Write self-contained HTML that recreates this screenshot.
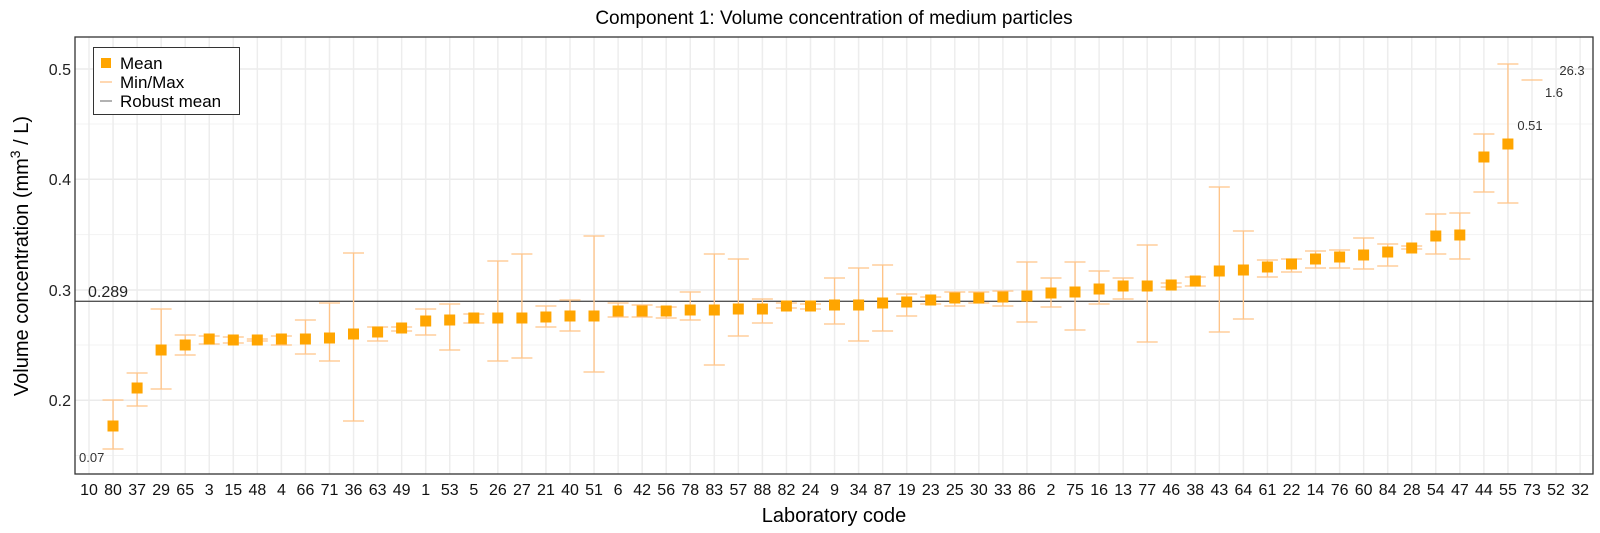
<!DOCTYPE html>
<html><head><meta charset="utf-8"><style>
body{margin:0;background:#fff}
svg{display:block;font-family:"Liberation Sans",Arial,sans-serif}
</style></head><body>
<svg width="1600" height="533" viewBox="0 0 1600 533" xmlns="http://www.w3.org/2000/svg">
<rect width="1600" height="533" fill="#fff"/>
<text x="834" y="24" font-size="19" text-anchor="middle" fill="#000">Component 1: Volume concentration of medium particles</text>
<g stroke="#ebebeb" stroke-width="1.5">
<line x1="75" x2="1593" y1="69" y2="69"/><line x1="75" x2="1593" y1="179.3" y2="179.3"/><line x1="75" x2="1593" y1="290" y2="290"/><line x1="75" x2="1593" y1="400.3" y2="400.3"/>
</g>
<g stroke="#f3f3f3" stroke-width="1">
<line x1="75" x2="1593" y1="124" y2="124"/><line x1="75" x2="1593" y1="234.6" y2="234.6"/><line x1="75" x2="1593" y1="345" y2="345"/><line x1="75" x2="1593" y1="455.5" y2="455.5"/>
</g>
<g stroke="#ededed" stroke-width="1.5" id="vg">
<line x1="89" x2="89" y1="37" y2="474"/><line x1="113.05" x2="113.05" y1="37" y2="474"/><line x1="137.1" x2="137.1" y1="37" y2="474"/><line x1="161.15" x2="161.15" y1="37" y2="474"/><line x1="185.2" x2="185.2" y1="37" y2="474"/><line x1="209.25" x2="209.25" y1="37" y2="474"/><line x1="233.3" x2="233.3" y1="37" y2="474"/><line x1="257.35" x2="257.35" y1="37" y2="474"/><line x1="281.4" x2="281.4" y1="37" y2="474"/><line x1="305.45" x2="305.45" y1="37" y2="474"/><line x1="329.5" x2="329.5" y1="37" y2="474"/><line x1="353.55" x2="353.55" y1="37" y2="474"/><line x1="377.6" x2="377.6" y1="37" y2="474"/><line x1="401.65" x2="401.65" y1="37" y2="474"/><line x1="425.7" x2="425.7" y1="37" y2="474"/><line x1="449.75" x2="449.75" y1="37" y2="474"/><line x1="473.8" x2="473.8" y1="37" y2="474"/><line x1="497.85" x2="497.85" y1="37" y2="474"/><line x1="521.9" x2="521.9" y1="37" y2="474"/><line x1="545.95" x2="545.95" y1="37" y2="474"/><line x1="570" x2="570" y1="37" y2="474"/><line x1="594.05" x2="594.05" y1="37" y2="474"/><line x1="618.1" x2="618.1" y1="37" y2="474"/><line x1="642.15" x2="642.15" y1="37" y2="474"/><line x1="666.2" x2="666.2" y1="37" y2="474"/><line x1="690.25" x2="690.25" y1="37" y2="474"/><line x1="714.3" x2="714.3" y1="37" y2="474"/><line x1="738.35" x2="738.35" y1="37" y2="474"/><line x1="762.4" x2="762.4" y1="37" y2="474"/><line x1="786.45" x2="786.45" y1="37" y2="474"/><line x1="810.5" x2="810.5" y1="37" y2="474"/><line x1="834.55" x2="834.55" y1="37" y2="474"/><line x1="858.6" x2="858.6" y1="37" y2="474"/><line x1="882.65" x2="882.65" y1="37" y2="474"/><line x1="906.7" x2="906.7" y1="37" y2="474"/><line x1="930.75" x2="930.75" y1="37" y2="474"/><line x1="954.8" x2="954.8" y1="37" y2="474"/><line x1="978.85" x2="978.85" y1="37" y2="474"/><line x1="1002.9" x2="1002.9" y1="37" y2="474"/><line x1="1026.95" x2="1026.95" y1="37" y2="474"/><line x1="1051" x2="1051" y1="37" y2="474"/><line x1="1075.05" x2="1075.05" y1="37" y2="474"/><line x1="1099.1" x2="1099.1" y1="37" y2="474"/><line x1="1123.15" x2="1123.15" y1="37" y2="474"/><line x1="1147.2" x2="1147.2" y1="37" y2="474"/><line x1="1171.25" x2="1171.25" y1="37" y2="474"/><line x1="1195.3" x2="1195.3" y1="37" y2="474"/><line x1="1219.35" x2="1219.35" y1="37" y2="474"/><line x1="1243.4" x2="1243.4" y1="37" y2="474"/><line x1="1267.45" x2="1267.45" y1="37" y2="474"/><line x1="1291.5" x2="1291.5" y1="37" y2="474"/><line x1="1315.55" x2="1315.55" y1="37" y2="474"/><line x1="1339.6" x2="1339.6" y1="37" y2="474"/><line x1="1363.65" x2="1363.65" y1="37" y2="474"/><line x1="1387.7" x2="1387.7" y1="37" y2="474"/><line x1="1411.75" x2="1411.75" y1="37" y2="474"/><line x1="1435.8" x2="1435.8" y1="37" y2="474"/><line x1="1459.85" x2="1459.85" y1="37" y2="474"/><line x1="1483.9" x2="1483.9" y1="37" y2="474"/><line x1="1507.95" x2="1507.95" y1="37" y2="474"/><line x1="1532" x2="1532" y1="37" y2="474"/><line x1="1556.05" x2="1556.05" y1="37" y2="474"/><line x1="1580.1" x2="1580.1" y1="37" y2="474"/>
</g>
<line x1="75" x2="1593" y1="301.3" y2="301.3" stroke="#555" stroke-width="1.3"/>
<text x="88" y="297" font-size="16" fill="#222">0.289</text>
<text x="79" y="462" font-size="13" fill="#333">0.07</text>
<text x="1572" y="75" font-size="13" fill="#333" text-anchor="middle">26.3</text>
<text x="1554" y="97" font-size="13" fill="#333" text-anchor="middle">1.6</text>
<text x="1530" y="130" font-size="13" fill="#333" text-anchor="middle">0.51</text>
<g stroke="#ffc488" stroke-width="1.3" fill="none">
<path d="M113.05,400V449M102.5,400h21M102.5,449h21"/>
<path d="M137.1,373V406M126.6,373h21M126.6,406h21"/>
<path d="M161.15,309V389M150.6,309h21M150.6,389h21"/>
<path d="M185.2,335V355M174.7,335h21M174.7,355h21"/>
<path d="M209.25,336V344M198.7,336h21M198.7,344h21"/>
<path d="M233.3,337V343M222.8,337h21M222.8,343h21"/>
<path d="M257.35,339V341M246.8,339h21M246.8,341h21"/>
<path d="M281.4,336V345M270.9,336h21M270.9,345h21"/>
<path d="M305.45,320V354M294.9,320h21M294.9,354h21"/>
<path d="M329.5,303V361M319,303h21M319,361h21"/>
<path d="M353.55,253V421M343,253h21M343,421h21"/>
<path d="M377.6,327V341M367.1,327h21M367.1,341h21"/>
<path d="M401.65,327V331M391.1,327h21M391.1,331h21"/>
<path d="M425.7,309V335M415.2,309h21M415.2,335h21"/>
<path d="M449.75,304V350M439.2,304h21M439.2,350h21"/>
<path d="M473.8,314V323M463.3,314h21M463.3,323h21"/>
<path d="M497.85,261V361M487.3,261h21M487.3,361h21"/>
<path d="M521.9,254V358M511.4,254h21M511.4,358h21"/>
<path d="M545.95,306V327M535.4,306h21M535.4,327h21"/>
<path d="M570,300V331M559.5,300h21M559.5,331h21"/>
<path d="M594.05,236V372M583.5,236h21M583.5,372h21"/>
<path d="M618.1,303V317M607.6,303h21M607.6,317h21"/>
<path d="M642.15,305V317M631.6,305h21M631.6,317h21"/>
<path d="M666.2,307V318M655.7,307h21M655.7,318h21"/>
<path d="M690.25,292V320M679.7,292h21M679.7,320h21"/>
<path d="M714.3,254V365M703.8,254h21M703.8,365h21"/>
<path d="M738.35,259V336M727.8,259h21M727.8,336h21"/>
<path d="M762.4,299V323M751.9,299h21M751.9,323h21"/>
<path d="M786.45,303V308M775.9,303h21M775.9,308h21"/>
<path d="M810.5,304V309M800,304h21M800,309h21"/>
<path d="M834.55,278V324M824,278h21M824,324h21"/>
<path d="M858.6,268V341M848.1,268h21M848.1,341h21"/>
<path d="M882.65,265V331M872.1,265h21M872.1,331h21"/>
<path d="M906.7,294V316M896.2,294h21M896.2,316h21"/>
<path d="M930.75,297V304M920.2,297h21M920.2,304h21"/>
<path d="M954.8,292V306M944.3,292h21M944.3,306h21"/>
<path d="M978.85,292V303M968.3,292h21M968.3,303h21"/>
<path d="M1002.9,291V306M992.4,291h21M992.4,306h21"/>
<path d="M1026.95,262V322M1016.4,262h21M1016.4,322h21"/>
<path d="M1051,278V307M1040.5,278h21M1040.5,307h21"/>
<path d="M1075.05,262V330M1064.5,262h21M1064.5,330h21"/>
<path d="M1099.1,271V304M1088.6,271h21M1088.6,304h21"/>
<path d="M1123.15,278V299M1112.6,278h21M1112.6,299h21"/>
<path d="M1147.2,245V342M1136.7,245h21M1136.7,342h21"/>
<path d="M1171.25,283V287M1160.7,283h21M1160.7,287h21"/>
<path d="M1195.3,277V286M1184.8,277h21M1184.8,286h21"/>
<path d="M1219.35,187V332M1208.8,187h21M1208.8,332h21"/>
<path d="M1243.4,231V319M1232.9,231h21M1232.9,319h21"/>
<path d="M1267.45,260V277M1256.9,260h21M1256.9,277h21"/>
<path d="M1291.5,259V272M1281,259h21M1281,272h21"/>
<path d="M1315.55,251V268M1305,251h21M1305,268h21"/>
<path d="M1339.6,250V268M1329.1,250h21M1329.1,268h21"/>
<path d="M1363.65,238V269M1353.1,238h21M1353.1,269h21"/>
<path d="M1387.7,244V266M1377.2,244h21M1377.2,266h21"/>
<path d="M1411.75,246V249M1401.2,246h21M1401.2,249h21"/>
<path d="M1435.8,214V254M1425.3,214h21M1425.3,254h21"/>
<path d="M1459.85,213V259M1449.3,213h21M1449.3,259h21"/>
<path d="M1483.9,134V192M1473.4,134h21M1473.4,192h21"/>
<path d="M1507.95,64V203M1497.4,64h21M1497.4,203h21"/>
<path d="M1521.5,80h21"/>
</g>
<g fill="#ffa500">
<rect x="107.5" y="420.5" width="11" height="11"/><rect x="131.6" y="382.5" width="11" height="11"/><rect x="155.6" y="344.5" width="11" height="11"/><rect x="179.7" y="339.5" width="11" height="11"/><rect x="203.7" y="333.5" width="11" height="11"/><rect x="227.8" y="334.5" width="11" height="11"/><rect x="251.8" y="334.5" width="11" height="11"/><rect x="275.9" y="333.5" width="11" height="11"/><rect x="299.9" y="333.5" width="11" height="11"/><rect x="324" y="332.5" width="11" height="11"/><rect x="348" y="328.5" width="11" height="11"/><rect x="372.1" y="326.5" width="11" height="11"/><rect x="396.1" y="322.5" width="11" height="11"/><rect x="420.2" y="315.5" width="11" height="11"/><rect x="444.2" y="314.5" width="11" height="11"/><rect x="468.3" y="312.5" width="11" height="11"/><rect x="492.3" y="312.5" width="11" height="11"/><rect x="516.4" y="312.5" width="11" height="11"/><rect x="540.4" y="311.5" width="11" height="11"/><rect x="564.5" y="310.5" width="11" height="11"/><rect x="588.5" y="310.5" width="11" height="11"/><rect x="612.6" y="305.5" width="11" height="11"/><rect x="636.6" y="305.5" width="11" height="11"/><rect x="660.7" y="305.5" width="11" height="11"/><rect x="684.7" y="304.5" width="11" height="11"/><rect x="708.8" y="304.5" width="11" height="11"/><rect x="732.8" y="303.5" width="11" height="11"/><rect x="756.9" y="303.5" width="11" height="11"/><rect x="780.9" y="300.5" width="11" height="11"/><rect x="805" y="300.5" width="11" height="11"/><rect x="829" y="299.5" width="11" height="11"/><rect x="853.1" y="299.5" width="11" height="11"/><rect x="877.1" y="297.5" width="11" height="11"/><rect x="901.2" y="296.5" width="11" height="11"/><rect x="925.2" y="294.5" width="11" height="11"/><rect x="949.3" y="292.5" width="11" height="11"/><rect x="973.3" y="292.5" width="11" height="11"/><rect x="997.4" y="291.5" width="11" height="11"/><rect x="1021.4" y="290.5" width="11" height="11"/><rect x="1045.5" y="287.5" width="11" height="11"/><rect x="1069.5" y="286.5" width="11" height="11"/><rect x="1093.6" y="283.5" width="11" height="11"/><rect x="1117.6" y="280.5" width="11" height="11"/><rect x="1141.7" y="280.5" width="11" height="11"/><rect x="1165.7" y="279.5" width="11" height="11"/><rect x="1189.8" y="275.5" width="11" height="11"/><rect x="1213.8" y="265.5" width="11" height="11"/><rect x="1237.9" y="264.5" width="11" height="11"/><rect x="1261.9" y="261.5" width="11" height="11"/><rect x="1286" y="258.5" width="11" height="11"/><rect x="1310" y="253.5" width="11" height="11"/><rect x="1334.1" y="251.5" width="11" height="11"/><rect x="1358.1" y="249.5" width="11" height="11"/><rect x="1382.2" y="246.5" width="11" height="11"/><rect x="1406.2" y="242.5" width="11" height="11"/><rect x="1430.3" y="230.5" width="11" height="11"/><rect x="1454.3" y="229.5" width="11" height="11"/><rect x="1478.4" y="151.5" width="11" height="11"/><rect x="1502.4" y="138.5" width="11" height="11"/>
</g>
<rect x="75" y="37" width="1518" height="437" fill="none" stroke="#333" stroke-width="1.3"/>
<rect x="93.5" y="47.5" width="146" height="67" fill="#fff" stroke="#333" stroke-width="1"/>
<rect x="101" y="58" width="10" height="10" fill="#ffa500"/>
<line x1="100" x2="112" y1="82" y2="82" stroke="#ffc488" stroke-width="1.3"/>
<line x1="100" x2="112" y1="101" y2="101" stroke="#888" stroke-width="1.3"/>
<g font-size="17" fill="#000">
<text x="120" y="69">Mean</text><text x="120" y="88">Min/Max</text><text x="120" y="107">Robust mean</text>
</g>
<g font-size="16" fill="#222" text-anchor="end">
<text x="71" y="75">0.5</text><text x="71" y="185">0.4</text><text x="71" y="296">0.3</text><text x="71" y="406">0.2</text>
</g>
<text transform="translate(28,256) rotate(-90)" font-size="20" fill="#000" text-anchor="middle">Volume concentration (mm<tspan dy="-8" font-size="14">3</tspan><tspan dy="8"> / L)</tspan></text>
<g font-size="16" fill="#111" text-anchor="middle">
<text x="89" y="495">10</text><text x="113.05" y="495">80</text><text x="137.1" y="495">37</text><text x="161.15" y="495">29</text><text x="185.2" y="495">65</text><text x="209.25" y="495">3</text><text x="233.3" y="495">15</text><text x="257.35" y="495">48</text><text x="281.4" y="495">4</text><text x="305.45" y="495">66</text><text x="329.5" y="495">71</text><text x="353.55" y="495">36</text><text x="377.6" y="495">63</text><text x="401.65" y="495">49</text><text x="425.7" y="495">1</text><text x="449.75" y="495">53</text><text x="473.8" y="495">5</text><text x="497.85" y="495">26</text><text x="521.9" y="495">27</text><text x="545.95" y="495">21</text><text x="570" y="495">40</text><text x="594.05" y="495">51</text><text x="618.1" y="495">6</text><text x="642.15" y="495">42</text><text x="666.2" y="495">56</text><text x="690.25" y="495">78</text><text x="714.3" y="495">83</text><text x="738.35" y="495">57</text><text x="762.4" y="495">88</text><text x="786.45" y="495">82</text><text x="810.5" y="495">24</text><text x="834.55" y="495">9</text><text x="858.6" y="495">34</text><text x="882.65" y="495">87</text><text x="906.7" y="495">19</text><text x="930.75" y="495">23</text><text x="954.8" y="495">25</text><text x="978.85" y="495">30</text><text x="1002.9" y="495">33</text><text x="1026.95" y="495">86</text><text x="1051" y="495">2</text><text x="1075.05" y="495">75</text><text x="1099.1" y="495">16</text><text x="1123.15" y="495">13</text><text x="1147.2" y="495">77</text><text x="1171.25" y="495">46</text><text x="1195.3" y="495">38</text><text x="1219.35" y="495">43</text><text x="1243.4" y="495">64</text><text x="1267.45" y="495">61</text><text x="1291.5" y="495">22</text><text x="1315.55" y="495">14</text><text x="1339.6" y="495">76</text><text x="1363.65" y="495">60</text><text x="1387.7" y="495">84</text><text x="1411.75" y="495">28</text><text x="1435.8" y="495">54</text><text x="1459.85" y="495">47</text><text x="1483.9" y="495">44</text><text x="1507.95" y="495">55</text><text x="1532" y="495">73</text><text x="1556.05" y="495">52</text><text x="1580.1" y="495">32</text>
</g>
<text x="834" y="522" font-size="20" fill="#000" text-anchor="middle">Laboratory code</text>
</svg>
</body></html>
